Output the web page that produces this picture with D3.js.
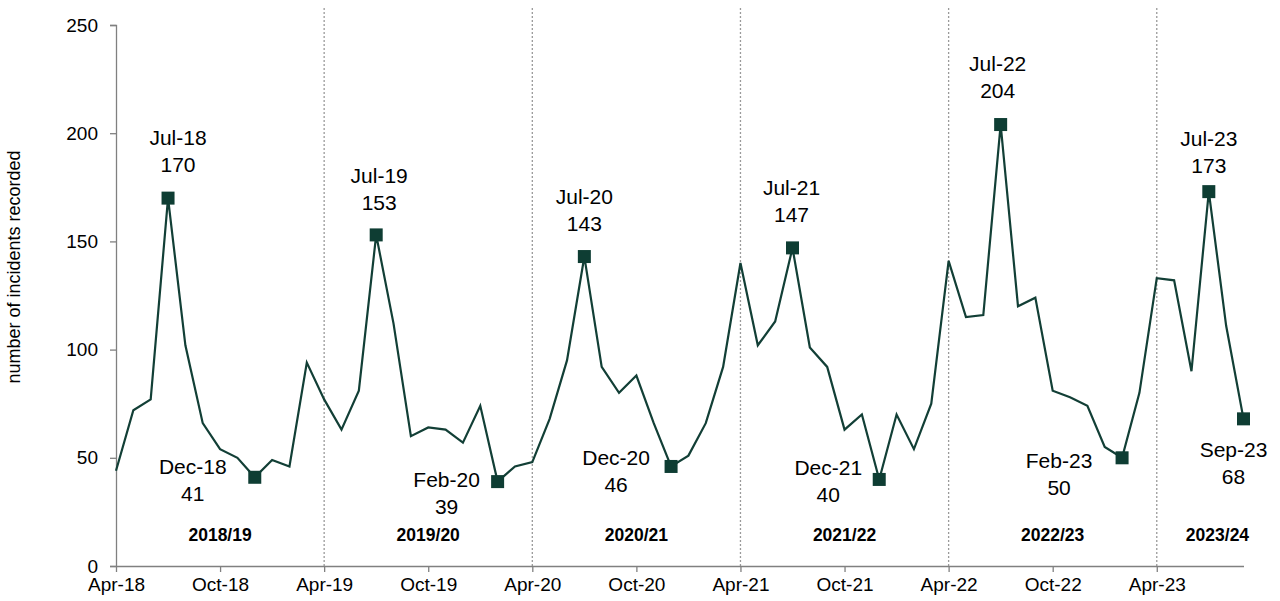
<!DOCTYPE html>
<html>
<head>
<meta charset="utf-8">
<script src="https://cdn.jsdelivr.net/npm/d3@7"></script>
<style>
  html, body { margin: 0; padding: 0; background: #fff; }
  svg { display: block; font-family: Arial, "Liberation Sans", sans-serif; }
</style>
</head>
<body>
<svg id="chart" width="1280" height="601"></svg>
<script>
// ---- DATA ----
const months = [
  "Apr-18","May-18","Jun-18","Jul-18","Aug-18","Sep-18","Oct-18","Nov-18","Dec-18","Jan-19","Feb-19","Mar-19",
  "Apr-19","May-19","Jun-19","Jul-19","Aug-19","Sep-19","Oct-19","Nov-19","Dec-19","Jan-20","Feb-20","Mar-20",
  "Apr-20","May-20","Jun-20","Jul-20","Aug-20","Sep-20","Oct-20","Nov-20","Dec-20","Jan-21","Feb-21","Mar-21",
  "Apr-21","May-21","Jun-21","Jul-21","Aug-21","Sep-21","Oct-21","Nov-21","Dec-21","Jan-22","Feb-22","Mar-22",
  "Apr-22","May-22","Jun-22","Jul-22","Aug-22","Sep-22","Oct-22","Nov-22","Dec-22","Jan-23","Feb-23","Mar-23",
  "Apr-23","May-23","Jun-23","Jul-23","Aug-23","Sep-23"
];
const incidents = [
  44, 72, 77, 170, 102, 66, 54, 50, 41, 49, 46, 94,
  77, 63, 81, 153, 112, 60, 64, 63, 57, 74, 39, 46,
  48, 68, 95, 143, 92, 80, 88, 66, 46, 51, 66, 92,
  140, 102, 113, 147, 101, 92, 63, 70, 40, 70, 54, 75,
  141, 115, 116, 204, 120, 124, 81, 78, 74, 55, 50, 80,
  133, 132, 90, 173, 111, 68
];
const highlighted = ["Jul-18","Dec-18","Jul-19","Feb-20","Jul-20","Dec-20","Jul-21","Dec-21","Jul-22","Feb-23","Jul-23","Sep-23"];
const yTicks = [0, 50, 100, 150, 200, 250];
const xTickLabels = ["Apr-18","Oct-18","Apr-19","Oct-19","Apr-20","Oct-20","Apr-21","Oct-21","Apr-22","Oct-22","Apr-23"];
const yearStarts = ["Apr-19","Apr-20","Apr-21","Apr-22","Apr-23"];
const fyLabels = ["2018/19","2019/20","2020/21","2021/22","2022/23","2023/24"];
const fyLabelCentres = [6, 18, 30, 42, 54, 63.5]; // in months from Apr-18
const yTitle = "number of incidents recorded";

// ---- LAYOUT / STYLE (separate from data) ----
const labelOffsets = {
  "Jul-18": [10, -53.5], "Dec-18": [-62, -3.5], "Jul-19": [3, -51.5], "Feb-20": [-51, 5.5],
  "Jul-20": [0, -52.5], "Dec-20": [-55, -1.5], "Jul-21": [-1, -52.5], "Dec-21": [-51, -4.5],
  "Jul-22": [-3, -53.5], "Feb-23": [-63, 10.5], "Jul-23": [0, -45.5], "Sep-23": [-10, 38.5]
};
const lineColor = "#123f36";
const axisColor = "#808080";

const svg = d3.select("#chart");
const x = d3.scaleLinear().domain([0, months.length - 1]).range([116, 1243.5]);
const y = d3.scaleLinear().domain([0, 250]).range([566, 25]);
const idx = m => months.indexOf(m);

// year divider dotted lines
svg.append("g").selectAll("line").data(yearStarts).join("line")
  .attr("x1", d => x(idx(d))).attr("x2", d => x(idx(d)))
  .attr("y1", 8).attr("y2", y(0))
  .attr("stroke", "#9a9a9a").attr("stroke-width", 1.3)
  .attr("stroke-dasharray", "2,2");

// Y axis
const yAxis = svg.append("g").attr("transform", `translate(${x(0)},0)`)
  .call(d3.axisLeft(y).tickValues(yTicks).tickSize(6).tickPadding(12).tickFormat(d3.format("d")));
yAxis.select(".domain").attr("stroke", axisColor).attr("stroke-width", 1.3);
yAxis.selectAll(".tick line").attr("stroke", axisColor).attr("stroke-width", 1.3);
yAxis.selectAll(".tick text").attr("font-size", 19).attr("fill", "#000")
  .attr("font-family", "Arial, 'Liberation Sans', sans-serif");

// X axis
const xAxis = svg.append("g").attr("transform", `translate(0,${y(0)})`)
  .call(d3.axisBottom(x).tickValues(xTickLabels.map(idx)).tickSize(6).tickSizeOuter(0)
    .tickPadding(6).tickFormat(i => months[i]));
xAxis.select(".domain").attr("stroke", axisColor).attr("stroke-width", 1.3);
xAxis.selectAll(".tick line").attr("stroke", axisColor).attr("stroke-width", 1.3);
xAxis.selectAll(".tick text").attr("font-size", 19).attr("fill", "#000")
  .attr("font-family", "Arial, 'Liberation Sans', sans-serif");

// FY labels
svg.append("g").selectAll("text").data(fyLabels).join("text")
  .attr("x", (d, i) => x(fyLabelCentres[i])).attr("y", 541)
  .attr("text-anchor", "middle").attr("font-size", 17.5).attr("font-weight", "bold")
  .attr("fill", "#000").text(d => d);

// Y title
svg.append("text")
  .attr("transform", `translate(20,267) rotate(-90)`)
  .attr("text-anchor", "middle").attr("font-size", 18).attr("fill", "#000")
  .text(yTitle);

// line
const line = d3.line().x((d, i) => x(i)).y(d => y(d));
svg.append("path").datum(incidents)
  .attr("d", line).attr("fill", "none")
  .attr("stroke", lineColor).attr("stroke-width", 2.2).attr("stroke-linejoin", "miter");

// markers
const hl = highlighted.map(m => ({ m, i: idx(m), v: incidents[idx(m)] }));
svg.append("g").selectAll("rect").data(hl).join("rect")
  .attr("x", d => x(d.i) - 6.5).attr("y", d => y(d.v) - 6.5)
  .attr("width", 13).attr("height", 13).attr("fill", "#0e3d33");

// data labels
const lbl = svg.append("g").selectAll("text").data(hl).join("text")
  .attr("text-anchor", "middle").attr("font-size", 21).attr("fill", "#000");
lbl.append("tspan")
  .attr("x", d => x(d.i) + labelOffsets[d.m][0])
  .attr("y", d => y(d.v) + labelOffsets[d.m][1])
  .text(d => d.m);
lbl.append("tspan")
  .attr("x", d => x(d.i) + labelOffsets[d.m][0])
  .attr("y", d => y(d.v) + labelOffsets[d.m][1] + 27)
  .text(d => d.v);
</script>
</body>
</html>
